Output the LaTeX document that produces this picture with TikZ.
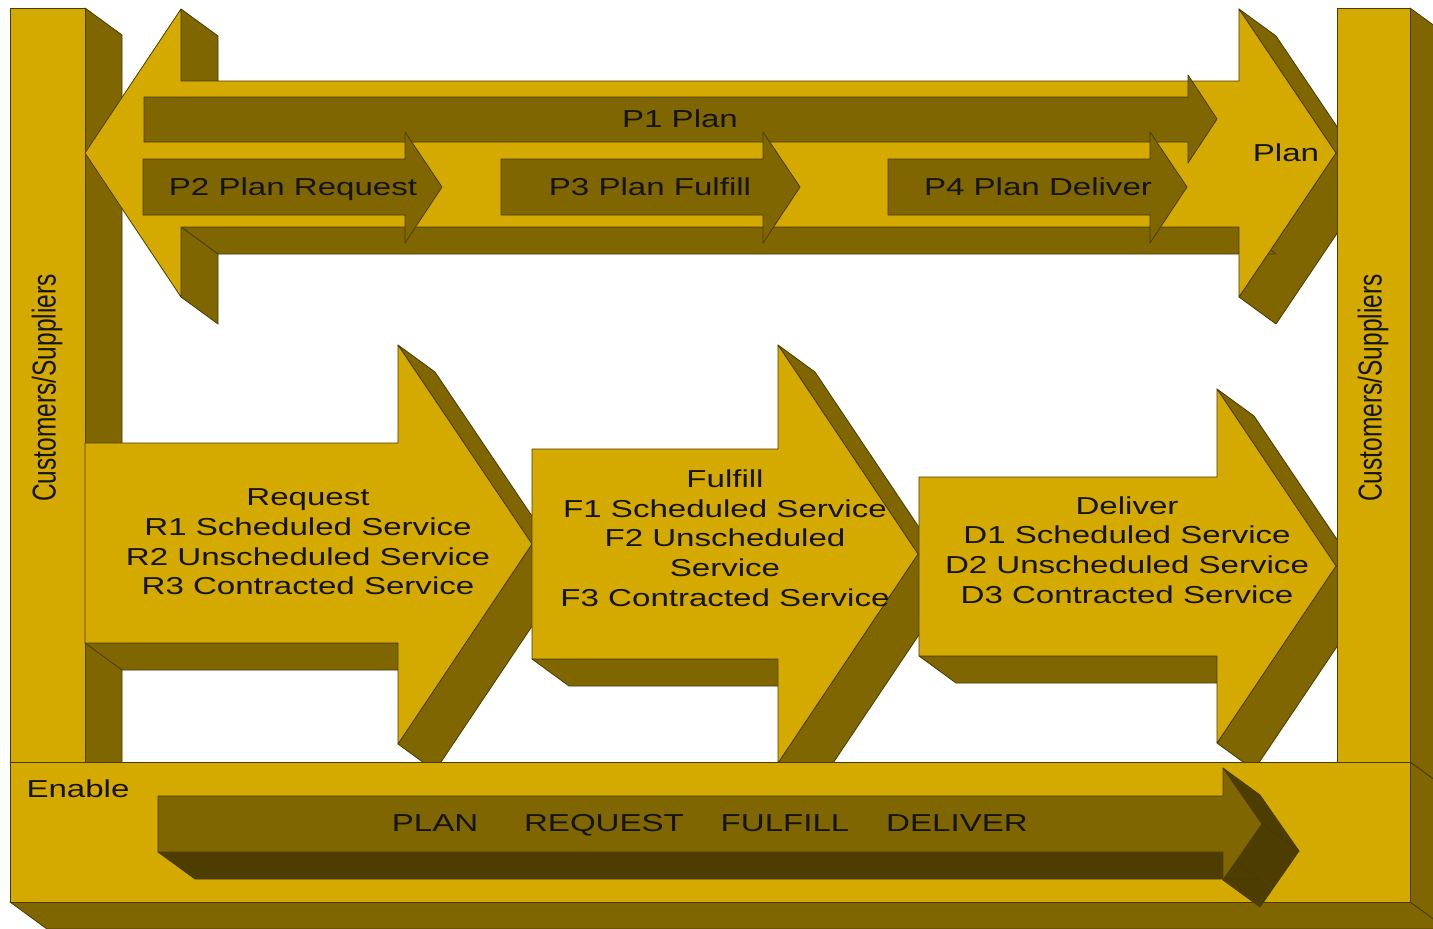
\documentclass[tikz,border=0pt]{standalone}
\usepackage{fontspec}
\usepackage{graphicx}
\newfontfamily\lbl[FakeStretch=1.35]{Liberation Sans}
\newfontfamily\lblv{Liberation Sans}
\definecolor{gold}{HTML}{D4AA00}
\definecolor{shade}{HTML}{806600}
\definecolor{deep}{HTML}{4D3D00}
\definecolor{edgec}{HTML}{4A3A00}
\definecolor{ink}{HTML}{141414}
\tikzset{
  frontface/.style={fill=gold, draw=edgec, line width=0.8pt, line join=round},
  sideface/.style={fill=shade, draw=edgec, line width=0.8pt, line join=round},
  darkface/.style={fill=deep, draw=edgec, line width=0.8pt, line join=round},
  flatarrow/.style={fill=shade, draw=edgec, line width=0.8pt, line join=round},
  txt/.style={text=ink, font=\lbl\fontsize{24.5}{29.7}\selectfont, inner sep=0pt, align=center},
  btxt/.style={txt, anchor=base},
  vtxt/.style={text=ink, inner sep=0pt, rotate=90},
}
\makeatletter
\newcommand\sol@quad[5]{%
  \pgfmathsetmacro\sol@v{((#5)-(#3))*0.37-((#4)-(#2))*0.27}%
  \ifdim\sol@v pt>0pt
    \filldraw[#1] (#2,#3) -- (#4,#5) -- ++(37,27) -- ++(#2-#4,#3-#5) -- cycle;
  \fi}
\newcommand\solid[3]{%
  \gdef\sol@path{}%
  \foreach \x/\y [count=\i] in {#3}{%
    \ifnum\i=1\relax
      \xdef\sol@fx{\x}\xdef\sol@fy{\y}%
    \else
      \sol@quad{#1}{\sol@px}{\sol@py}{\x}{\y}%
      \xdef\sol@path{\sol@path -- (\x,\y)}%
    \fi
    \xdef\sol@px{\x}\xdef\sol@py{\y}%
  }%
  \sol@quad{#1}{\sol@px}{\sol@py}{\sol@fx}{\sol@fy}%
  \filldraw[#2] (\sol@fx,\sol@fy) \sol@path -- cycle;
}
\makeatother
\begin{document}
\begin{tikzpicture}[x=1pt,y=-1pt]
\useasboundingbox (0,0) rectangle (1433,929);
\fill[white] (0,0) rectangle (1433,929);
\clip (0,0) rectangle (1433,929);
% left customers/suppliers bar
\solid{sideface}{frontface}{10/8, 85/8, 85/762, 10/762}
% big plan arrow
\solid{sideface}{frontface}{85/153, 181/9, 181/81, 1239/81, 1239/9, 1336/153, 1239/297, 1239/227, 181/227, 181/297}
% inner plan arrows
\filldraw[flatarrow] (144,97) -- (1188,97) -- (1188,75) -- (1217,119) -- (1188,163) -- (1188,142) -- (144,142) -- cycle;
\filldraw[flatarrow] (143,159) -- (405,159) -- (405,132) -- (442,187) -- (405,243) -- (405,215) -- (143,215) -- cycle;
\filldraw[flatarrow] (501,159) -- (763,159) -- (763,132) -- (800,187) -- (763,243) -- (763,215) -- (501,215) -- cycle;
\filldraw[flatarrow] (888,159) -- (1150,159) -- (1150,132) -- (1187,187) -- (1150,243) -- (1150,215) -- (888,215) -- cycle;
% request, fulfill, deliver arrows
\solid{sideface}{frontface}{85/443, 398/443, 398/345, 532/544, 398/744, 398/643, 85/643}
\solid{sideface}{frontface}{532/449, 778/449, 778/345, 918/554, 778/763, 778/659, 532/659}
\solid{sideface}{frontface}{919/477, 1217/477, 1217/389, 1336/566, 1217/743, 1217/656, 919/656}
% right customers/suppliers bar
\solid{sideface}{frontface}{1337/8, 1410/8, 1410/762, 1337/762}
% enable bar
\solid{sideface}{frontface}{10/762, 1410/762, 1410/902, 10/902}
\solid{darkface}{sideface}{158/796, 1223/796, 1223/768, 1262/824, 1223/880, 1223/852, 158/852}
% texts
\node[btxt] (p1) at (680,127) {P1 Plan};
\node[btxt] (p2) at (293,195) {P2 Plan Request};
\node[btxt] (p3) at (650,195) {P3 Plan Fulfill};
\node[btxt] (p4) at (1038,195) {P4 Plan Deliver};
\node[btxt] (plan) at (1286,161) {Plan};
\node[txt] (req) at (308,542) {Request\\R1 Scheduled Service\\R2 Unscheduled Service\\R3 Contracted Service};
\node[txt] (ful) at (725,538) {Fulfill\\F1 Scheduled Service\\F2 Unscheduled\\Service\\F3 Contracted Service};
\node[txt] (del) at (1127,550) {Deliver\\D1 Scheduled Service\\D2 Unscheduled Service\\D3 Contracted Service};
\node[btxt] (en) at (78,797) {Enable};
\node[btxt] (ep) at (435,831) {PLAN};
\node[btxt] (er) at (604,831) {REQUEST};
\node[btxt] (ef) at (785,831) {FULFILL};
\node[btxt] (ed) at (957,831) {DELIVER};
\node[vtxt] (csl) at (47,388) {\scalebox{1}[1.35]{\lblv\fontsize{24.5}{29.7}\selectfont Customers/Suppliers}};
\node[vtxt] (csr) at (1373,388) {\scalebox{1}[1.35]{\lblv\fontsize{24.5}{29.7}\selectfont Customers/Suppliers}};
\end{tikzpicture}
\end{document}
